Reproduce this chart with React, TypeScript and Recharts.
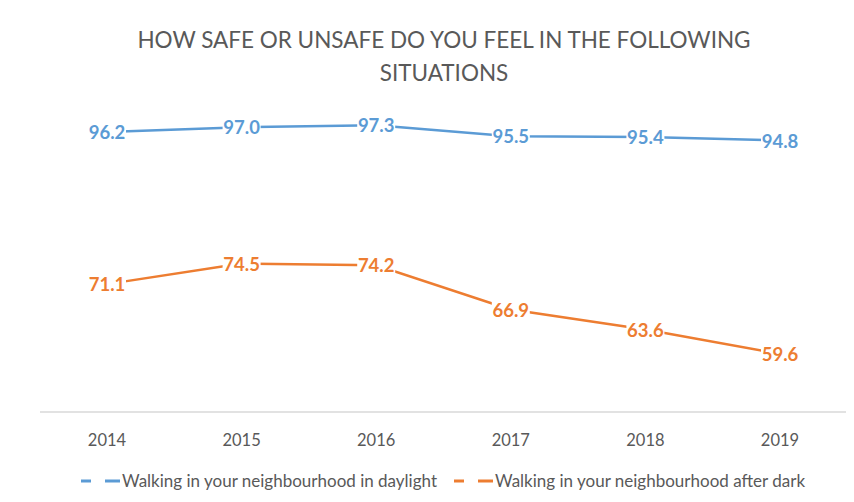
import React from 'react';
import { LineChart, Line, XAxis, YAxis, LabelList } from 'recharts';

const years = ['2014', '2015', '2016', '2017', '2018', '2019'];
const daylight = [96.2, 97.0, 97.3, 95.5, 95.4, 94.8];
const afterDark = [71.1, 74.5, 74.2, 66.9, 63.6, 59.6];
const seriesNames = [
  'Walking in your neighbourhood in daylight',
  'Walking in your neighbourhood after dark',
];
const titleLines = ['HOW SAFE OR UNSAFE DO YOU FEEL IN THE FOLLOWING', 'SITUATIONS'];

const BLUE = '#5B9BD5';
const ORANGE = '#ED7D31';
const TEXT = '#595959';
const FONT = '"Lato", "Open Sans", sans-serif';

const data = years.map((y, i) => ({ year: y, day: daylight[i], dark: afterDark[i] }));

const makeLabel = (color: string) => (props: any) => {
  const { x, y, value } = props;
  const txt = Number(value).toFixed(1);
  const w = 38;
  const h = 16;
  return (
    <g>
      <rect x={x - w / 2} y={y - h / 2} width={w} height={h} fill="#fff" />
      <text
        x={x}
        y={y}
        textAnchor="middle"
        dominantBaseline="central"
        fill={color}
        fontSize={18.5}
        fontWeight="bold"
        fontFamily={FONT}
      >
        {txt}
      </text>
    </g>
  );
};

const LegendIcon = ({ color }: { color: string }) => (
  <svg width={40} height={10} style={{ display: 'block' }}>
    <line x1={1} y1={5} x2={11} y2={5} stroke={color} strokeWidth={3} />
    <line x1={25} y1={5} x2={40} y2={5} stroke={color} strokeWidth={3} />
  </svg>
);

export default function App() {
  return (
    <div style={{ position: 'relative', width: 846, height: 486, fontFamily: FONT, background: '#fff' }}>
      <div
        style={{
          position: 'absolute',
          top: 15,
          left: 0,
          width: 872,
          textAlign: 'center',
          color: TEXT,
          fontSize: 22.5,
          lineHeight: '33px',
        }}
      >
        {titleLines.map((t) => (
          <div key={t}>{t}</div>
        ))}
      </div>
      <LineChart
        width={846}
        height={486}
        data={data}
        margin={{ top: 101, right: 7, bottom: 42, left: 32 }}
      >
        <XAxis
          dataKey="year"
          axisLine={{ stroke: '#D9D9D9', strokeWidth: 1.5 }}
          tickLine={false}
          tick={{ fill: TEXT, fontSize: 16.5, fontFamily: FONT }}
          tickMargin={16}
          height={40}
          padding={{ left: 67, right: 67 }}
        />
        <YAxis hide domain={[50, 100]} />
        <Line
          dataKey="day"
          name={seriesNames[0]}
          stroke={BLUE}
          strokeWidth={2.5}
          dot={false}
          isAnimationActive={false}
        >
          <LabelList dataKey="day" content={makeLabel(BLUE)} />
        </Line>
        <Line
          dataKey="dark"
          name={seriesNames[1]}
          stroke={ORANGE}
          strokeWidth={2.5}
          dot={false}
          isAnimationActive={false}
        >
          <LabelList dataKey="dark" content={makeLabel(ORANGE)} />
        </Line>
      </LineChart>
      <div
        style={{
          position: 'absolute',
          top: 462,
          left: 72,
          display: 'flex',
          alignItems: 'center',
          color: TEXT,
          fontSize: 17,
          whiteSpace: 'nowrap',
        }}
      >
        <LegendIcon color={BLUE} />
        <span style={{ marginLeft: 2 }}>{seriesNames[0]}</span>
        <span style={{ width: 16 }} />
        <LegendIcon color={ORANGE} />
        <span style={{ marginLeft: 2 }}>{seriesNames[1]}</span>
      </div>
    </div>
  );
}
